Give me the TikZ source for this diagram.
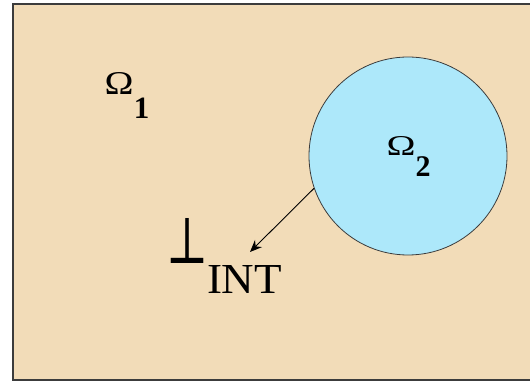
\documentclass[tikz,border=0pt]{standalone}
\usepackage{fontspec}
\setmainfont{Liberation Serif}
\newfontfamily\dvserif{DejaVu Serif}
\usetikzlibrary{arrows.meta}
\definecolor{tan}{RGB}{242,220,184}
\definecolor{lightblue}{RGB}{173,232,250}
\definecolor{edge}{RGB}{60,60,60}
\tikzset{lbl/.style={inner sep=0pt, outer sep=0pt, text=black}}
\begin{document}
\begin{tikzpicture}[x=1pt,y=-1pt]
\useasboundingbox (0,0) rectangle (530,382);
\draw[fill=tan, draw=edge, line width=1.2pt] (13,4) rectangle (540,380);
\node[circle, minimum size=198pt, inner sep=0pt, fill=lightblue, draw=edge, line width=0.8pt] (c) at (408,156) {};
\node[lbl] (o1) at (119,83.5) {\resizebox{29pt}{22pt}{\fontsize{30}{30}\selectfont Ω}};
\node[lbl] (s1) at (141.5,108.5) {\fontsize{31}{31}\selectfont\bfseries 1};
\node[lbl] (o2) at (401,146.5) {\resizebox{29pt}{19pt}{\fontsize{26}{26}\selectfont Ω}};
\node[lbl] (s2) at (423,167) {\fontsize{30}{30}\selectfont\bfseries 2};
\node[lbl] (perp) at (187.5,240.5) {\resizebox{42pt}{45pt}{\dvserif ⊥}};
\node[lbl] (int) at (244.5,279) {\resizebox{75pt}{28pt}{\fontsize{42}{42}\selectfont INT}};
\coordinate (tip) at (250,252);
\draw[line width=0.9pt, -{Stealth[length=12pt,width=10pt,inset=4pt]}] (c.199) -- (tip);
\end{tikzpicture}
\end{document}
